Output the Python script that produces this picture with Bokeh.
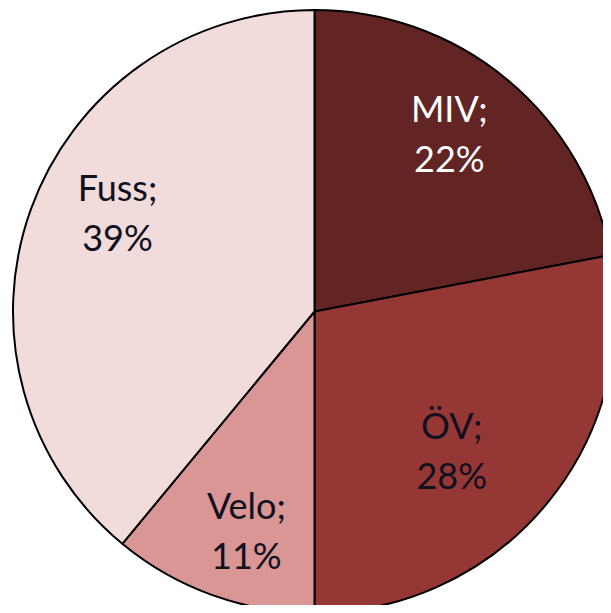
import numpy as np
from bokeh.plotting import figure
from bokeh.models import ColumnDataSource
from bokeh.core.properties import value
from bokeh.embed import file_html
from bokeh.resources import INLINE

# data
categories = ["MIV", "ÖV", "Velo", "Fuss"]
shares = [22, 28, 11, 39]
colors = ["#632523", "#953735", "#D99694", "#F2DCDB"]
text_colors = ["#FFFFFF", "#10101F", "#10101F", "#10101F"]

# layout
W, H = 603, 605
cx, cy, R = 314, 294, 301.5
label_frac = [0.733, 0.654, 0.768, 0.727]
label_nudge_deg = [2.0, -6.3, 2.7, -6.2]

vals = np.array(shares, dtype=float)
frac = vals / vals.sum()
cum = np.concatenate([[0], np.cumsum(frac)])
start = np.pi / 2 - cum[:-1] * 2 * np.pi
end = np.pi / 2 - cum[1:] * 2 * np.pi
mid = (start + end) / 2 + np.radians(label_nudge_deg)
lx = cx + np.array(label_frac) * R * np.cos(mid)
ly = cy + np.array(label_frac) * R * np.sin(mid)

src = ColumnDataSource(dict(
    start=start, end=end, color=colors, cat=categories,
    name=[c + ";" for c in categories],
    pct=[f"{s}%" for s in shares],
    lx=lx, ly=ly, tc=text_colors,
))

p = figure(width=W, height=H, x_range=(0, W), y_range=(0, H),
           output_backend="svg", toolbar_location=None, min_border=0)
p.axis.visible = False
p.grid.visible = False
p.outline_line_color = None
p.background_fill_color = "white"

p.wedge(x=cx, y=cy, radius=R, start_angle="end", end_angle="start",
        fill_color="color", line_color="black", line_width=2, source=src)

p.text(x="lx", y="ly", text="name", text_color="tc", text_font=value("Lato"),
       text_font_size="36px", text_align="center", text_baseline="middle",
       y_offset=-28, source=src)
p.text(x="lx", y="ly", text="pct", text_color="tc", text_font=value("Lato"),
       text_font_size="36px", text_align="center", text_baseline="middle",
       y_offset=22, source=src)

open("out.html", "w").write(file_html(p, INLINE))
